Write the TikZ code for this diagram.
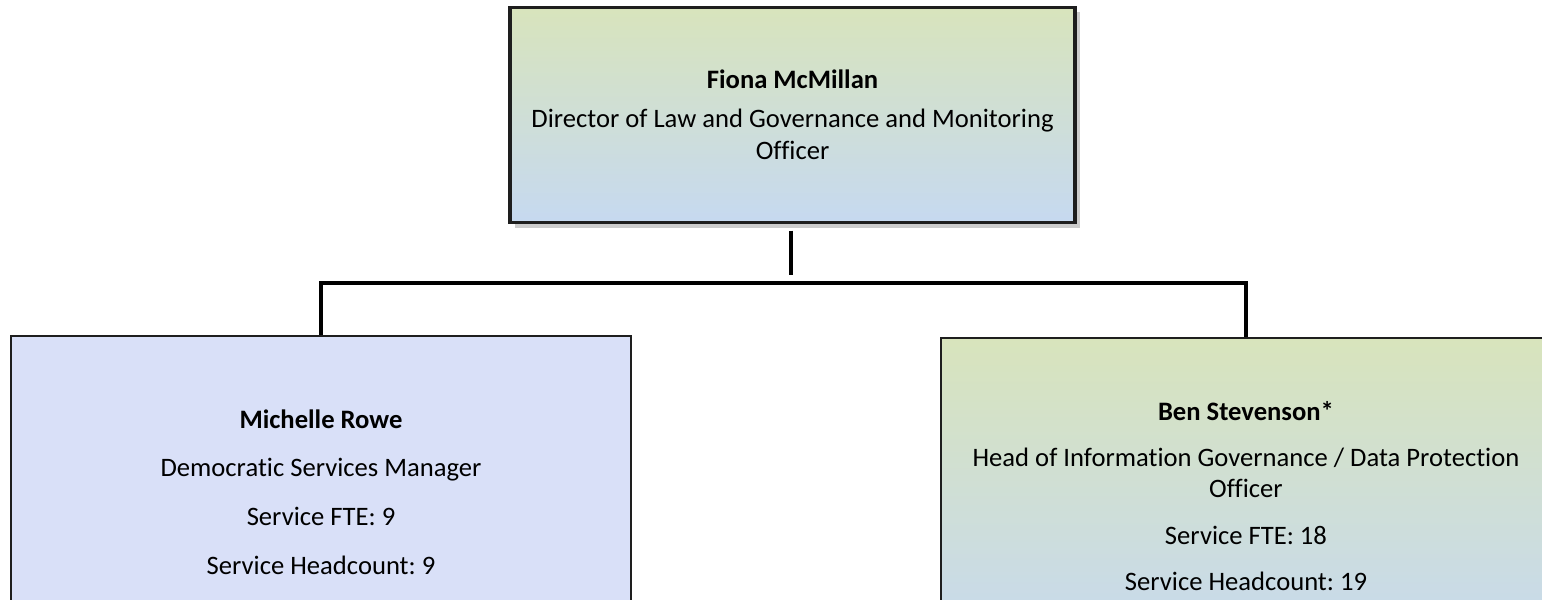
\documentclass[tikz,border=0pt]{standalone}
\usepackage{fontspec}
\setmainfont{Carlito}[Ligatures=NoCommon]
\usetikzlibrary{positioning,shadows}

\definecolor{boxgreen}{RGB}{216,228,188}
\definecolor{boxblue}{RGB}{198,217,240}
\definecolor{boxlilac}{RGB}{217,224,248}
\definecolor{edgegrey}{RGB}{30,30,30}

\begin{document}
\begin{tikzpicture}[
    every node/.style={font=\fontsize{10.1}{12}\selectfont\frenchspacing, align=center},
    post/.style={draw=edgegrey, rectangle, line width=0.8pt},
    greenpost/.style={post, top color=boxgreen, bottom color=boxblue},
    link/.style={draw=black, line width=1.5pt}
  ]
  \useasboundingbox (0,0) rectangle (20.56,8);
  % director
  \node[greenpost, line width=1.2pt, minimum width=7.533cm, minimum height=2.867cm,
        drop shadow={shadow xshift=2pt, shadow yshift=-2pt, opacity=0.4}]
    (fiona) at (10.567,6.47) {\textbf{Fiona McMillan}\\[3pt]
      Director of Law and Governance and Monitoring\\ Officer};
  % managers
  \node[post, fill=boxlilac, minimum width=8.267cm, minimum height=4.16cm]
    (michelle) at (4.28,1.44) {\textbf{Michelle Rowe}\\[6.5pt]
      Democratic Services Manager\\[6.5pt]
      Service FTE: 9\\[6.5pt]
      Service Headcount: 9};
  \node[greenpost, minimum width=8.133cm, minimum height=4.213cm]
    (ben) at (16.613,1.39) {\textbf{Ben Stevenson*}\\[5.5pt]
      Head of Information Governance / Data Protection\\ Officer\\[5.5pt]
      Service FTE: 18\\[5.5pt]
      Service Headcount: 19};
  % connectors
  \coordinate (drop) at (10.55,4.333);
  \coordinate (bus) at (10.55,4.227);
  \draw[link, shorten <=0.09cm] (fiona.south -| drop) -- (drop);
  \draw[link] (michelle.north) |- (bus) -| (ben.north);
\end{tikzpicture}
\end{document}
